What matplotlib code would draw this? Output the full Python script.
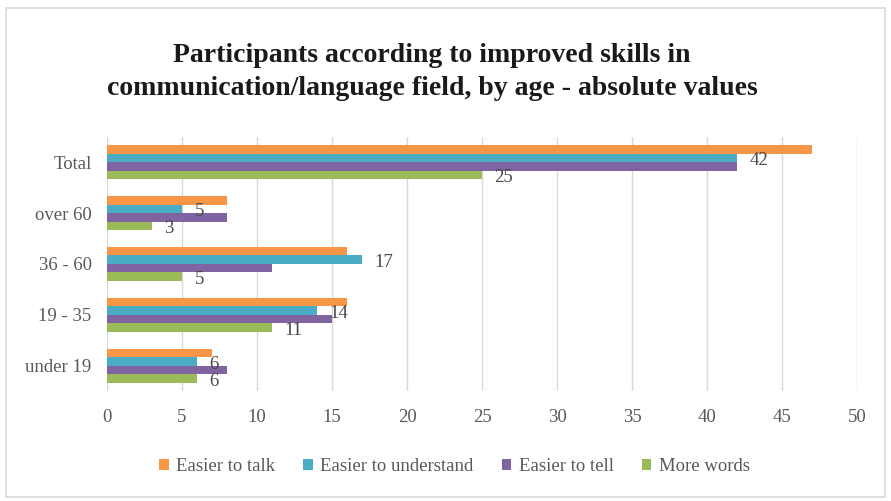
"""
Participants by improved communication/language skills, by age - horizontal grouped bars.
"""

import matplotlib

matplotlib.use("Agg")
import matplotlib.pyplot as plt
import numpy as np
from matplotlib.patches import Rectangle

plt.rcParams["font.family"] = ["Liberation Serif", "DejaVu Serif"]

# data (bottom to top)
groups = ["under 19", "19 - 35", "36 - 60", "over 60", "Total"]
series = ["Easier to talk", "Easier to understand", "Easier to tell", "More words"]
easier_talk = [7, 16, 16, 8, 47]
easier_understand = [6, 14, 17, 5, 42]
easier_tell = [8, 15, 11, 8, 42]
more_words = [6, 11, 5, 3, 25]
labelled = [False, True, False, True]  # only these series carry value labels
colors = ["#F79646", "#4BACC6", "#8064A2", "#9BBB59"]

values = [easier_talk, easier_understand, easier_tell, more_words]

fig = plt.figure(figsize=(8.91, 5.01), dpi=100)
ax = fig.add_axes([0.120, 0.2196, 0.842, 0.507])

y = np.arange(len(groups))
h = 0.167
offsets = [1.5 * h, 0.5 * h, -0.5 * h, -1.5 * h]
for vals, name, c, off, lab in zip(values, series, colors, offsets, labelled):
    bars = ax.barh(y + off, vals, height=h, color=c, label=name, zorder=3)
    if lab:
        for b, v in zip(bars, vals):
            ax.annotate(f"{v}", (v, b.get_y() + b.get_height() / 2),
                        xytext=(9, -2), textcoords="offset points",
                        ha="left", va="center", fontsize=13.5, color="#4a4a4a", zorder=4)

ax.set_xlim(0, 50)
ax.set_ylim(-0.5, 4.5)
ax.set_xticks(np.arange(0, 51, 5))
ax.set_yticks(y)
ax.set_yticklabels(groups)
ax.tick_params(axis="both", length=0, labelsize=13.5, colors="#595959")
ax.tick_params(axis="x", pad=13)
ax.tick_params(axis="y", pad=11)
ax.grid(True, axis="x", color="#D9D9D9", linewidth=1, zorder=0)
for s in ax.spines.values():
    s.set_visible(False)

fig.text(0.485, 0.856, "Participants according to improved skills in\ncommunication/language field, by age - absolute values",
         ha="center", va="center", fontsize=20, fontweight="bold", color="#1a1a1a", linespacing=1.45)

leg = fig.legend(loc="center", bbox_to_anchor=(0.51, 0.068), ncol=4, frameon=False,
                 fontsize=13.5, handlelength=0.5, handleheight=0.5, handletextpad=0.4,
                 columnspacing=1.5)
for t in leg.get_texts():
    t.set_color("#595959")

fig.patches.append(Rectangle((0.007, 0.008), 0.986, 0.976, transform=fig.transFigure,
                             fill=False, edgecolor="#D9D9D9", linewidth=1.2))

fig.savefig("out.png", dpi=100)
plt.close(fig)
